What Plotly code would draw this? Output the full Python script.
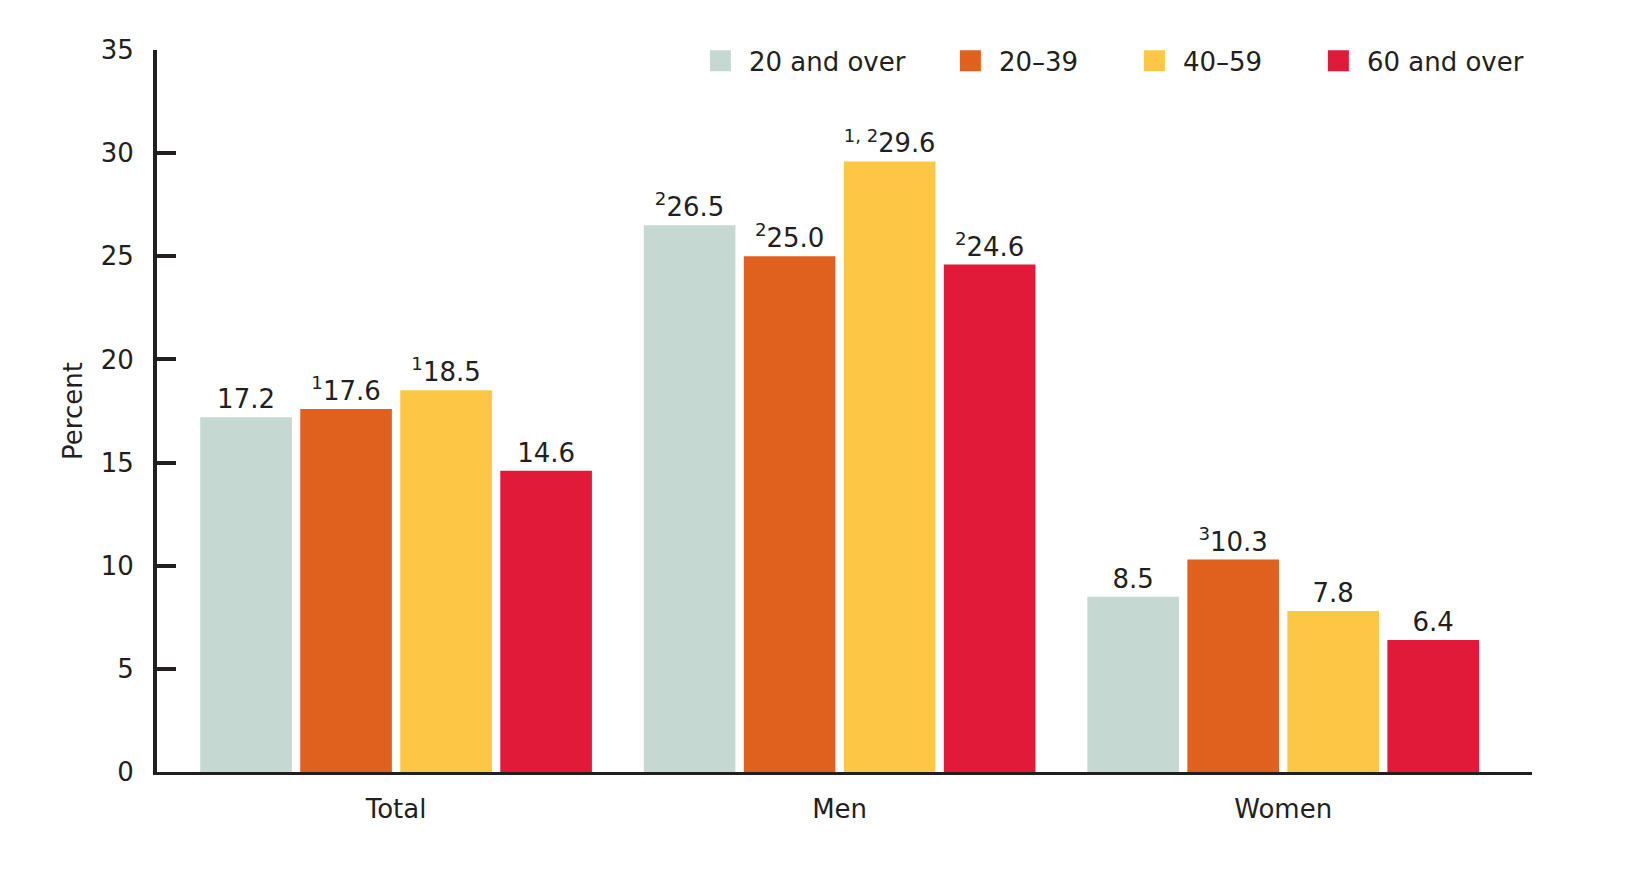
import plotly.graph_objects as go

categories = ["Total", "Men", "Women"]
series_names = ["20 and over", "20\u201339", "40\u201359", "60 and over"]
vals_20_over = [17.2, 26.5, 8.5]
vals_20_39 = [17.6, 25.0, 10.3]
vals_40_59 = [18.5, 29.6, 7.8]
vals_60_over = [14.6, 24.6, 6.4]
notes_20_over = ["", "2", ""]
notes_20_39 = ["1", "2", "3"]
notes_40_59 = ["1", "1, 2", ""]
notes_60_over = ["", "2", ""]
colors = ["#c5d8d2", "#e0601e", "#fdc745", "#e01a38"]
legend_widths = [188, 122, 122, 165]
y_ticks = [0, 5, 10, 15, 20, 25, 30, 35]

all_vals = [vals_20_over, vals_20_39, vals_40_59, vals_60_over]
all_notes = [notes_20_over, notes_20_39, notes_40_59, notes_60_over]

FONT = "DejaVu Sans"
INK = "#231f20"
FS = 26

def label(v, n):
    s = f"{v:.1f}"
    return f"<sup>{n}</sup>{s}" if n else s

fig = go.Figure()
for name, vals, notes, col in zip(series_names, all_vals, all_notes, colors):
    fig.add_trace(go.Bar(
        x=categories, y=vals, name=name,
        marker=dict(color=col, line=dict(width=0)),
        text=[label(v, n) for v, n in zip(vals, notes)],
        textposition="outside", cliponaxis=False,
        textfont=dict(family=FONT, size=FS, color=INK),
        showlegend=False, hoverinfo="x+y",
    ))
for name, col, lw in zip(series_names, colors, legend_widths):
    fig.add_trace(go.Scatter(
        x=[None], y=[None], mode="markers", name=name,
        marker=dict(symbol="square", size=16, color=col, line=dict(color=col, width=5)),
        showlegend=True, legendwidth=lw,
    ))

fig.update_layout(
    width=1651, height=872,
    margin=dict(l=149, r=127, t=42, b=108),
    paper_bgcolor="white", plot_bgcolor="white",
    barmode="group", bargap=0.098, bargroupgap=0.084,
    font=dict(family=FONT, size=FS, color=INK),
    legend=dict(orientation="h", x=0.389, xanchor="left", y=0.985, yanchor="middle",
                font=dict(family=FONT, size=FS, color=INK),
                bgcolor="rgba(0,0,0,0)", itemwidth=47),
    xaxis=dict(type="category", range=[-0.539, 2.561], showline=True, linewidth=3,
               linecolor=INK, ticks="", showgrid=False, zeroline=False,
               ticklabelstandoff=12, tickfont=dict(family=FONT, size=FS, color=INK)),
    yaxis=dict(range=[0, 35], tickvals=y_ticks, showline=True, linewidth=4,
               linecolor=INK, ticks="inside", ticklen=19, tickwidth=4, tickcolor=INK,
               showgrid=False, zeroline=False, ticklabelstandoff=14,
               tickfont=dict(family=FONT, size=FS, color=INK),
               title=dict(text="Percent", standoff=12,
                          font=dict(family=FONT, size=FS, color=INK))),
)

fig.write_html("out.html")
